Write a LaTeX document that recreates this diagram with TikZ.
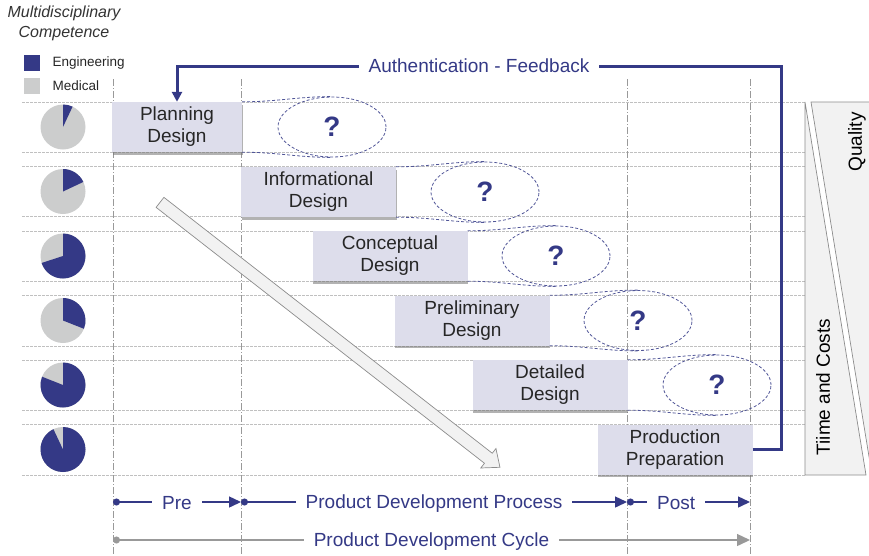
\documentclass[tikz,border=0pt]{standalone}
\usepackage{fontspec}
\setmainfont{Liberation Sans}
\usetikzlibrary{arrows.meta, shapes.geometric, shapes.arrows, shadows}
\definecolor{EngBlue}{RGB}{52,57,134}
\definecolor{MedGray}{RGB}{204,205,205}
\definecolor{PhaseFill}{RGB}{221,221,235}
\definecolor{GridGray}{RGB}{192,192,192}

\begin{document}
\begin{tikzpicture}[
  x=1pt, y=1pt,
  font          = \fontsize{19}{22}\selectfont,
  % phase boxes: fixed height, width set per box
  phase/.style  = {fill=PhaseFill, text=black!85, minimum height=50pt,
                   inner sep=0pt, align=center,
                   drop shadow={shadow xshift=0.8pt, shadow yshift=-2.8pt,
                                fill=black!55, opacity=0.55}},
  query/.style  = {ellipse, draw=EngBlue!85, line width=0.8pt,
                   dash pattern=on 3pt off 2pt, minimum width=108pt,
                   minimum height=60pt, inner sep=0pt, text=EngBlue,
                   font=\fontsize{28}{28}\selectfont\bfseries},
  link/.style   = {EngBlue!85, line width=0.8pt, dash pattern=on 3pt off 2pt},
  rowline/.style= {GridGray, line width=0.6pt, dash pattern=on 2.5pt off 1.5pt},
  colline/.style= {black!40, line width=0.7pt,
                   dash pattern=on 7pt off 2pt on 1pt off 2pt},
  fb/.style     = {EngBlue, line width=3pt,
                   -{Triangle[length=10pt, width=10pt]}},
  stage/.style  = {EngBlue, line width=1.4pt,
                   {Circle[length=7pt]}-{Triangle[length=12pt, width=11pt]}},
  span/.style   = {black!40, line width=1.4pt,
                   {Circle[length=7pt]}-{Triangle[length=13pt, width=12pt]}},
  tag/.style    = {fill=white, text=EngBlue, inner xsep=10pt, inner ysep=1pt},
  panel/.style  = {draw=black!45, fill=black!5, line width=0.7pt},
]
\useasboundingbox (0,0) rectangle (869,-555);

% ── Grid: rows (two lines each) and phase borders ─────────────────────────────
\foreach \r in {0,...,5} {
  \draw[rowline] (22,{-102-64.5*\r}) -- (805,{-102-64.5*\r});
  \draw[rowline] (22,{-152-64.6*\r}) -- (805,{-152-64.6*\r});
}
\foreach \x in {113,241,627,750}
  \draw[colline] (\x,-79) -- (\x,-555);

% ── Open questions per phase ──────────────────────────────────────────────────
\node[query] (q1) at (332,-127)   {?};
\node[query] (q2) at (485,-192)   {?};
\node[query] (q3) at (556,-256)   {?};
\node[query] (q4) at (638,-320.5) {?};
\node[query] (q5) at (717,-385)   {?};

% ── Phase boxes (row centres step 64.5) ───────────────────────────────────────
\node[phase, minimum width=130pt] (plan)    at (177,-127)
      {Planning\\Design};
\node[phase, minimum width=155pt] (info)    at (318.5,-192)
      {Informational\\Design};
\node[phase, minimum width=155pt] (concept) at (390,-256)
      {Conceptual\\Design};
\node[phase, minimum width=155pt] (prelim)  at (472,-320.5)
      {Preliminary\\Design};
\node[phase, minimum width=155pt] (detail)  at (550,-385)
      {Detailed\\Design};
\node[phase, minimum width=155pt] (prod)    at (675,-449.5)
      {Production\\Preparation};

\foreach \b/\q in {plan/q1, info/q2, concept/q3, prelim/q4, detail/q5} {
  \draw[link] (\b.north east) to[out=0, in=180] (\q.north);
  \draw[link] (\b.south east) to[out=0, in=180] (\q.south);
}

% ── Feedback loop ─────────────────────────────────────────────────────────────
\coordinate (fbturn) at (781,-66);
\draw[fb] (prod.east) -| (fbturn)
      -- node[tag, inner ysep=0pt] {Authentication - Feedback} (plan.north |- fbturn)
      -- (plan.north);

% ── Progress arrow (shaft 12pt, head 24pt) ────────────────────────────────────
\node[single arrow, draw=black!45, fill=black!5, line width=0.7pt,
      minimum height=431pt, inner xsep=0pt, inner ysep=6pt,
      single arrow head extend=6pt, single arrow tip angle=80,
      rotate=-37.93] (flow) at (327,-332.5) {};

% ── Competence pies ───────────────────────────────────────────────────────────
\node[font=\fontsize{16}{20}\selectfont\itshape, align=center, text=black!80]
      (title) at (64,-23) {Multidisciplinary\\Competence};
\node[fill=EngBlue, minimum size=16pt, inner sep=0pt] (legeng) at (32,-63) {};
\node[fill=MedGray, minimum size=16pt, inner sep=0pt] (legmed) at (32,-86) {};
\node[anchor=west, font=\fontsize{13.5}{16}\selectfont, text=black!85]
      at (49,-63) {Engineering};
\node[anchor=west, font=\fontsize{13.5}{16}\selectfont, text=black!85]
      at (49,-86) {Medical};

\foreach \share [count=\i from 0] in {0.07,0.18,0.70,0.31,0.81,0.93} {
  \fill[MedGray] (63,{-127-64.5*\i}) circle[radius=22.5];
  \fill[EngBlue] (63,{-127-64.5*\i}) -- ++(90:22.5)
        arc[start angle=90, end angle={90-360*\share}, radius=22.5] -- cycle;
}

% ── Quality vs. time and costs ────────────────────────────────────────────────
\filldraw[panel] (805,-102) -- (805,-475) -- (866,-475) -- cycle;
\filldraw[panel] (811,-102) -- (885,-102) -- (885,-475) -- (872,-475) -- cycle;
\node[rotate=90] (quality) at (857,-142) {Quality};
\node[rotate=90] (costs)   at (823,-387) {Tiime and Costs};

% ── Timeline ──────────────────────────────────────────────────────────────────
\coordinate (t0) at (113,-502);
\coordinate (t1) at (241,-502);
\coordinate (t2) at (627,-502);
\coordinate (t3) at (750,-502);
\draw[stage] (t0) -- node[tag, yshift=-1.5pt] {Pre} (t1);
\draw[stage] (t1) -- node[tag, yshift=-1.5pt] {Product Development Process} (t2);
\draw[stage] (t2) -- node[tag, yshift=-1.5pt, pos=0.4] {Post} (t3);

\coordinate (c0) at (113,-540);
\coordinate (c1) at (750,-540);
\draw[span] (c0) -- node[tag, yshift=-1.5pt] {Product Development Cycle} (c1);

\end{tikzpicture}
\end{document}
